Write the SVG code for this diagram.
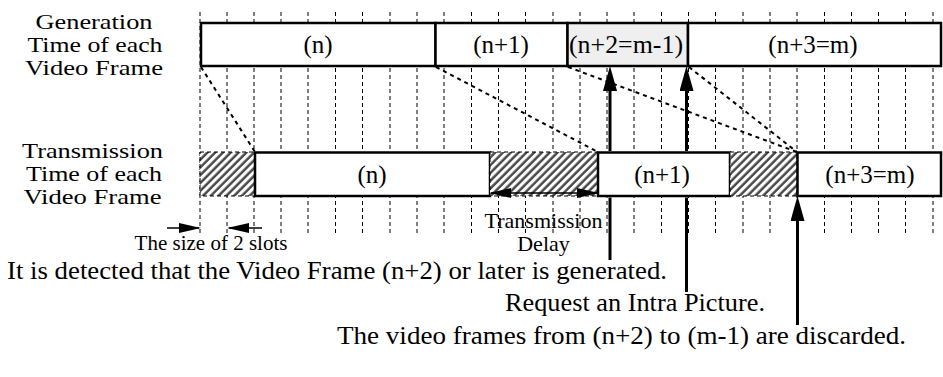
<svg xmlns="http://www.w3.org/2000/svg" width="943" height="377" viewBox="0 0 943 377">
<style>
text{font-family:"Liberation Serif","Times New Roman",serif;fill:#000}
.lbl{font-size:25px;text-anchor:middle}
.side{font-size:21.5px;text-anchor:middle}
.sm{font-size:22px;text-anchor:middle}
.note{font-size:25px}
.grid{stroke:#000;stroke-width:1;stroke-dasharray:4 3;fill:none}
.box{fill:#fff;stroke:#000;stroke-width:2.5}
.hatch{fill:url(#hatch);stroke:#000;stroke-width:1;stroke-dasharray:4 3}
.diag{stroke:#000;stroke-width:2;stroke-dasharray:4 4;fill:none}
.thick{stroke:#000;stroke-width:3;fill:none;marker-end:url(#bigArrow)}
.thin{stroke:#000;stroke-width:1.5;fill:none;marker-end:url(#smallArrow)}
</style>
<defs>
<pattern id="hatch" patternUnits="userSpaceOnUse" width="5.5" height="5.5" patternTransform="rotate(45)">
<rect width="5.5" height="5.5" fill="#fff"/>
<line x1="1.5" y1="0" x2="1.5" y2="5.5" stroke="#444" stroke-width="2.4"/>
</pattern>
<marker id="bigArrow" viewBox="0 0 25 14" refX="10" refY="7" markerWidth="25" markerHeight="14" orient="auto" markerUnits="userSpaceOnUse">
<path d="M0,0 L25,7 L0,14 z" fill="#000"/>
</marker>
<marker id="smallArrow" viewBox="0 0 22 10" refX="20" refY="5" markerWidth="22" markerHeight="10" orient="auto" markerUnits="userSpaceOnUse">
<path d="M0,0 L22,5 L0,10 z" fill="#000"/>
</marker>
</defs>

<path class="grid" d="M200,12V233M227,12V233M254,12V233M281,12V233M308,12V233M335.5,12V233M362.5,12V233M390,12V233M417,12V233M444,12V233M471.5,12V233M498.5,12V233M525.5,12V233M553,12V233M580,12V233M607,12V233M634,12V233M661.5,12V233M688.5,12V233M715.5,12V233M743,12V233M770,12V233M797,12V233M824.5,12V233M851.5,12V233M878.5,12V233M905.5,12V233M933,12V233"/>

<g id="label-generation">
<text class="side" x="94" y="28.5" textLength="117" lengthAdjust="spacingAndGlyphs">Generation</text>
<text class="side" x="95" y="51.5" textLength="135" lengthAdjust="spacingAndGlyphs">Time of each</text>
<text class="side" x="94" y="74.5" textLength="138" lengthAdjust="spacingAndGlyphs">Video Frame</text>
</g>
<g id="label-transmission">
<text class="side" x="92.5" y="158" textLength="141" lengthAdjust="spacingAndGlyphs">Transmission</text>
<text class="side" x="94" y="181" textLength="136" lengthAdjust="spacingAndGlyphs">Time of each</text>
<text class="side" x="92.5" y="204" textLength="138" lengthAdjust="spacingAndGlyphs">Video Frame</text>
</g>

<g id="gen-n">
<rect class="box" x="201" y="23" width="234.5" height="43"/>
<text class="lbl" x="318" y="53">(n)</text>
</g>
<g id="gen-n1">
<rect class="box" x="435.5" y="23" width="132" height="43"/>
<text class="lbl" x="501" y="53">(n+1)</text>
</g>
<g id="gen-n2">
<rect class="box" x="567.5" y="23" width="120.5" height="43" style="fill:#efefef"/>
<text class="lbl" x="626" y="53" textLength="114" lengthAdjust="spacingAndGlyphs">(n+2=m-1)</text>
</g>
<g id="gen-n3">
<rect class="box" x="688" y="23" width="253" height="43"/>
<text class="lbl" x="813" y="53">(n+3=m)</text>
</g>

<g id="tx-wait1"><rect class="hatch" x="200" y="152" width="55" height="44"/></g>
<g id="tx-n">
<rect class="box" x="255" y="152.5" width="235" height="43.5"/>
<text class="lbl" x="372" y="183">(n)</text>
</g>
<g id="tx-wait2"><rect class="hatch" x="490" y="152" width="108" height="44"/></g>
<g id="tx-n1">
<rect class="box" x="598" y="152.5" width="132" height="43.5"/>
<text class="lbl" x="662" y="183">(n+1)</text>
</g>
<g id="tx-wait3"><rect class="hatch" x="730" y="152" width="67" height="44"/></g>
<g id="tx-n3">
<rect class="box" x="797.5" y="152.5" width="143.5" height="43.5"/>
<text class="lbl" x="870" y="183">(n+3=m)</text>
</g>

<g id="connectors">
<path class="diag" d="M201,67L255,152"/>
<path class="diag" d="M436,67L598,152"/>
<path class="diag" d="M568,67L797,152"/>
<path class="diag" d="M689,67L797,152"/>
<path class="thick" d="M610,260V197.5M610,151V81"/>
<path class="thick" d="M686.5,292V197.5M686.5,151V81"/>
<path class="thick" d="M797.5,325V211"/>
<path class="thin" d="M167,228H199"/>
<path class="thin" d="M262,228H229"/>
<path class="thin" d="M543,193H491"/>
<path class="thin" d="M543,193H597"/>
</g>

<g id="label-slots"><text class="sm" x="211" y="250" style="font-size:21px">The size of 2 slots</text></g>
<g id="label-delay">
<text class="sm" x="543.5" y="228">Transmission</text>
<text class="sm" x="543.5" y="251">Delay</text>
</g>
<g id="note-detect"><text class="note" x="7" y="279" textLength="660" lengthAdjust="spacingAndGlyphs">It is detected that the Video Frame (n+2) or later is generated.</text></g>
<g id="note-request"><text class="note" x="505" y="311" textLength="260" lengthAdjust="spacingAndGlyphs">Request an Intra Picture.</text></g>
<g id="note-discard"><text class="note" x="337" y="344" textLength="569" lengthAdjust="spacingAndGlyphs">The video frames from (n+2) to (m-1) are discarded.</text></g>
</svg>
